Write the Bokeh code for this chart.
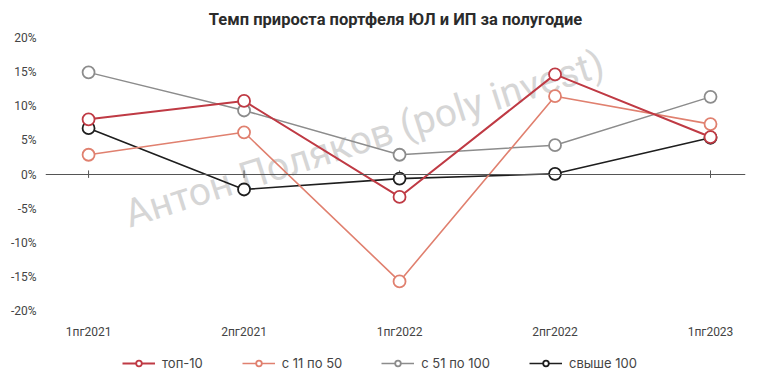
from bokeh.plotting import figure
from bokeh.layouts import column
from bokeh.models import (FixedTicker, PrintfTickFormatter, Span, Legend, LegendItem,
                          Label, ColumnDataSource)
from bokeh.embed import file_html
from bokeh.resources import INLINE

categories = ["1пг2021", "2пг2021", "1пг2022", "2пг2022", "1пг2023"]
series_names = ["топ-10", "с 11 по 50", "с 51 по 100", "свыше 100"]
top10 = [8.1, 10.8, -3.3, 14.7, 5.5]
s11_50 = [2.9, 6.2, -15.7, 11.5, 7.4]
s51_100 = [15.0, 9.4, 2.9, 4.3, 11.4]
over100 = [6.8, -2.2, -0.6, 0.1, 5.4]
y_ticks = [-20, -15, -10, -5, 0, 5, 10, 15, 20]

title_text = "Темп прироста портфеля ЮЛ и ИП за полугодие"
watermark = "Антон Поляков (poly invest)"

colors = ["#bf3a44", "#e0806f", "#8c8c8c", "#1e1e1e"]
widths = [2.0, 1.6, 1.5, 1.6]

xs = list(range(len(categories)))

p = figure(width=758, height=341, output_backend="svg", toolbar_location=None,
           x_range=(-0.277, 4.225), y_range=(-21, 21),
           min_border_left=45, min_border_right=13, min_border_top=31,
           min_border_bottom=22, background_fill_color="white",
           border_fill_color="white", outline_line_color=None)

p.title.text = title_text
p.title.align = "center"
p.title.text_font = "Roboto"
p.title.text_font_size = "16.5px"
p.title.text_font_style = "bold"
p.title.text_color = "#2b2b2b"
p.title.standoff = 6

p.grid.visible = False

p.yaxis.ticker = FixedTicker(ticks=y_ticks)
p.yaxis.formatter = PrintfTickFormatter(format="%d%%")
p.yaxis.axis_line_color = None
p.yaxis.major_tick_line_color = None
p.yaxis.minor_tick_line_color = None
p.yaxis.major_label_standoff = 3
p.yaxis.major_label_text_font = "Roboto"
p.yaxis.major_label_text_font_size = "12px"
p.yaxis.major_label_text_color = "#444444"

p.xaxis.ticker = FixedTicker(ticks=xs)
p.xaxis.major_label_overrides = {i: c for i, c in zip(xs, categories)}
p.xaxis.axis_line_color = None
p.xaxis.major_tick_line_color = None
p.xaxis.minor_tick_line_color = None
p.xaxis.major_label_standoff = 1
p.xaxis.major_label_text_font = "Roboto"
p.xaxis.major_label_text_font_size = "12px"
p.xaxis.major_label_text_color = "#444444"

wm = Label(x=0.24, y=-6.0, text=watermark, angle=0.31, text_font="Roboto",
           text_font_size="39px", text_color="#d6d6d6", text_baseline="alphabetic",
           level="underlay")
p.add_layout(wm)

p.add_layout(Span(location=0, dimension="width", line_color="#555555", line_width=1))
tick_src = ColumnDataSource(dict(x=xs, y0=[-0.5] * len(xs), y1=[0.6] * len(xs)))
p.segment(x0="x", x1="x", y0="y0", y1="y1", source=tick_src,
          line_color="#555555", line_width=1)

data = [top10, s11_50, s51_100, over100]
sources = [ColumnDataSource(dict(x=xs, y=d)) for d in data]
for idx in [3, 2, 1, 0]:
    p.line("x", "y", source=sources[idx], line_color=colors[idx], line_width=widths[idx])
    p.scatter("x", "y", source=sources[idx], marker="circle", size=12,
              fill_color="white", line_color=colors[idx], line_width=1.8)

# legend strip below the chart (its view range is off the data, so only the legend shows)
lg = figure(width=758, height=36, output_backend="svg", toolbar_location=None,
            x_range=(-10, -9), y_range=(-10, -9), min_border=0,
            x_axis_location=None, y_axis_location=None,
            background_fill_color="white", border_fill_color="white",
            outline_line_color=None)
lg.grid.visible = False
items = []
for i in range(4):
    ln = lg.line("x", "y", source=sources[i], line_color=colors[i], line_width=widths[i])
    sc = lg.scatter("x", "y", source=sources[i], marker="circle", size=11,
                    fill_color="white", line_color=colors[i], line_width=1.8)
    items.append(LegendItem(label=series_names[i], renderers=[ln, sc]))
legend = Legend(items=items, orientation="horizontal", location=(77, 6),
                glyph_width=33, glyph_height=14, label_height=14,
                label_standoff=7, spacing=39, padding=0, margin=0,
                border_line_color=None, background_fill_alpha=0,
                label_text_font="Inter", label_text_font_size="13px",
                label_text_color="#444444")
lg.add_layout(legend, "center")

layout = column(p, lg, spacing=0)
open("out.html", "w").write(file_html(layout, INLINE))
